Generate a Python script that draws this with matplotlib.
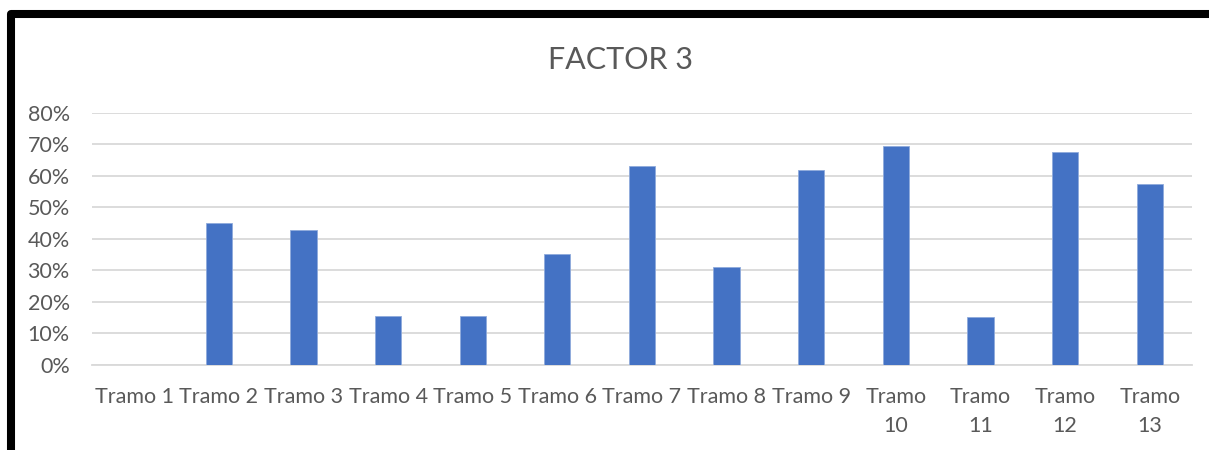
import matplotlib.pyplot as plt
from matplotlib.lines import Line2D
from matplotlib.ticker import PercentFormatter

# Share of each section for factor 3
tramos = ["Tramo 1", "Tramo 2", "Tramo 3", "Tramo 4", "Tramo 5", "Tramo 6",
          "Tramo 7", "Tramo 8", "Tramo 9", "Tramo\n10", "Tramo\n11",
          "Tramo\n12", "Tramo\n13"]
valores = [0.0, 0.451, 0.428, 0.156, 0.154, 0.352, 0.632, 0.311, 0.620,
           0.696, 0.153, 0.676, 0.575]
y_ticks = [0.0, 0.1, 0.2, 0.3, 0.4, 0.5, 0.6, 0.7, 0.8]

GRIS = "#595959"
plt.rcParams["font.family"] = ["Lato", "DejaVu Sans"]

fig = plt.figure(figsize=(12.09, 4.5), dpi=100)
ax = fig.add_axes([0.076, 0.189, 0.910, 0.560])

x = range(len(tramos))
ax.bar(x, valores, width=0.31, color="#4472C4", edgecolor="#8faadc",
       linewidth=0.6, zorder=3)

ax.set_xlim(-0.5, len(tramos) - 0.5)
ax.set_ylim(0, 0.8)
ax.set_yticks(y_ticks)
ax.yaxis.set_major_formatter(PercentFormatter(1.0, decimals=0))
ax.set_xticks(list(x))
ax.set_xticklabels(tramos, linespacing=1.55)

ax.grid(axis="y", color="#d9d9d9", linewidth=1.3, zorder=0)
for lado in ["top", "right", "left"]:
    ax.spines[lado].set_visible(False)
ax.spines["bottom"].set_color("#d9d9d9")
ax.spines["bottom"].set_linewidth(1.3)
ax.tick_params(axis="both", length=0, labelsize=15.5, colors=GRIS)
ax.tick_params(axis="x", pad=16)
ax.tick_params(axis="y", pad=16)
for lbl in ax.get_xticklabels():
    lbl.set_verticalalignment("top")

fig.text(0.513, 0.867, "FACTOR 3", ha="center", va="center",
         fontsize=22, color=GRIS)

# Dark frame around the chart area (top and left edges)
W, H = 1209, 450
marco = Line2D([11 / W, 11 / W, 1.0], [-0.01, 1 - 14 / H, 1 - 14 / H],
               transform=fig.transFigure, color="black", linewidth=5.8,
               solid_joinstyle="round")
fig.add_artist(marco)

fig.savefig("out.png", dpi=100)
